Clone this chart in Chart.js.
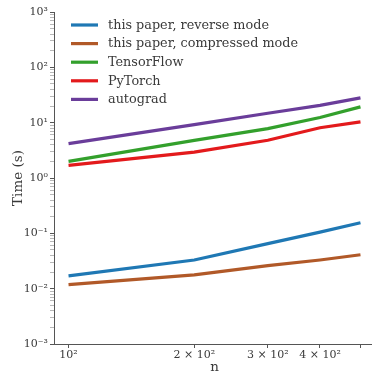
<!DOCTYPE html>
<html>
<head>
<meta charset="utf-8">
<script src="https://cdn.jsdelivr.net/npm/chart.js@4/dist/chart.umd.min.js"></script>
<style>
  html, body { margin:0; padding:0; overflow:hidden; background:#fff; }
</style>
</head>
<body>
<canvas id="chart" width="377" height="373"></canvas>
<script>
// ================== DATA ==================
const sizes = [100, 200, 300, 400, 500];
const reverseMode    = [0.017, 0.033, 0.065, 0.105, 0.155];
const compressedMode = [0.0118, 0.0177, 0.026, 0.033, 0.041];
const tensorflow     = [2.0, 4.8, 7.8, 12.4, 19.3];
const pytorch        = [1.69, 2.94, 4.8, 8.1, 10.3];
const autograd       = [4.18, 9.2, 14.8, 20.5, 28];

const seriesNames = ["this paper, reverse mode", "this paper, compressed mode", "TensorFlow", "PyTorch", "autograd"];
const seriesColors = ["#1f78b4", "#b15928", "#33a02c", "#e31a1c", "#6a3d9a"];

const xTicks = [100, 200, 300, 400, 500];
const xTickLabels = ["10²", "2 × 10²", "3 × 10²", "4 × 10²", ""];
const yDecades = [1e-3, 1e-2, 1e-1, 1, 10, 100, 1000];
const yDecadeLabels = ["10⁻³", "10⁻²", "10⁻¹", "10⁰", "10¹", "10²", "10³"];

const AXIS = "#555";
const TEXT = "#3a3a3a";
const SERIF = "'DejaVu Serif', serif";

// ================== TICKS ==================
function yTickList(){
  const out = [];
  yDecades.forEach((d, i) => {
    out.push({value: d, major: true});
    if(i < yDecades.length - 1){
      for(let k = 2; k <= 9; k++) out.push({value: d * k, major: false});
    }
  });
  return out;
}

// ================== LEGEND (inside plot) ==================
const innerLegend = {
  id: "innerLegend",
  afterDraw(chart){
    const ctx = chart.ctx;
    const x0 = 71, y0 = 25, step = 18.6;
    ctx.save();
    ctx.font = "12.8px " + SERIF;
    ctx.textBaseline = "middle";
    chart.data.datasets.forEach((ds, i) => {
      const y = y0 + i * step;
      ctx.strokeStyle = ds.borderColor;
      ctx.lineWidth = 3.2;
      ctx.beginPath();
      ctx.moveTo(x0, y);
      ctx.lineTo(x0 + 27, y);
      ctx.stroke();
      ctx.fillStyle = TEXT;
      ctx.fillText(ds.label, x0 + 37, y + 0.5);
    });
    ctx.restore();
  }
};

// ================== CHART ==================
const datasets = [reverseMode, compressedMode, tensorflow, pytorch, autograd].map((vals, i) => ({
  label: seriesNames[i],
  data: sizes.map((x, j) => ({x, y: vals[j]})),
  borderColor: seriesColors[i],
  backgroundColor: seriesColors[i],
  borderWidth: 3.2,
  pointRadius: 0,
  tension: 0,
  fill: false
}));

new Chart(document.getElementById("chart"), {
  type: "line",
  data: { datasets },
  options: {
    responsive: false,
    animation: false,
    devicePixelRatio: 1,
    layout: { padding: { top: 12, right: 2, left: 0, bottom: 0 } },
    plugins: { legend: { display: false }, tooltip: { enabled: false } },
    scales: {
      x: {
        type: "logarithmic",
        bounds: "data",
        min: 92.3,
        max: 541.7,
        afterBuildTicks: s => { s.ticks = xTicks.map(v => ({value: v})); },
        afterFit: s => { s.height = 29; },
        ticks: {
          autoSkip: false, maxRotation: 0, padding: 1,
          color: TEXT, font: { family: SERIF, size: 11 },
          callback: (v, i) => xTickLabels[i]
        },
        grid: { drawOnChartArea: false, drawTicks: true, tickLength: 4, tickColor: AXIS },
        border: { color: AXIS, width: 1 },
        title: { display: true, text: "n", color: TEXT, font: { family: SERIF, size: 13.5, lineHeight: 0.8 }, padding: { top: 0, bottom: 0 } }
      },
      y: {
        type: "logarithmic",
        bounds: "data",
        min: 1e-3,
        max: 1e3,
        afterBuildTicks: s => { s.ticks = yTickList(); },
        afterFit: s => { s.width = 54; },
        ticks: {
          autoSkip: false, padding: 2,
          color: TEXT, font: { family: SERIF, size: 11 },
          callback: (v) => {
            const idx = yDecades.findIndex(d => Math.abs(Math.log10(d) - Math.log10(v)) < 1e-6);
            return idx >= 0 ? yDecadeLabels[idx] : "";
          }
        },
        grid: {
          drawOnChartArea: false, drawTicks: true, tickLength: 4,
          tickColor: ctx => ctx.tick && ctx.tick.major ? AXIS : "#888",
          tickWidth: ctx => ctx.tick && ctx.tick.major ? 1 : 0.6
        },
        border: { color: AXIS, width: 1 },
        title: { display: true, text: "Time (s)", color: TEXT, font: { family: SERIF, size: 13.5 }, padding: { top: 10, bottom: 0 } }
      }
    }
  },
  plugins: [innerLegend]
});
</script>
</body>
</html>
